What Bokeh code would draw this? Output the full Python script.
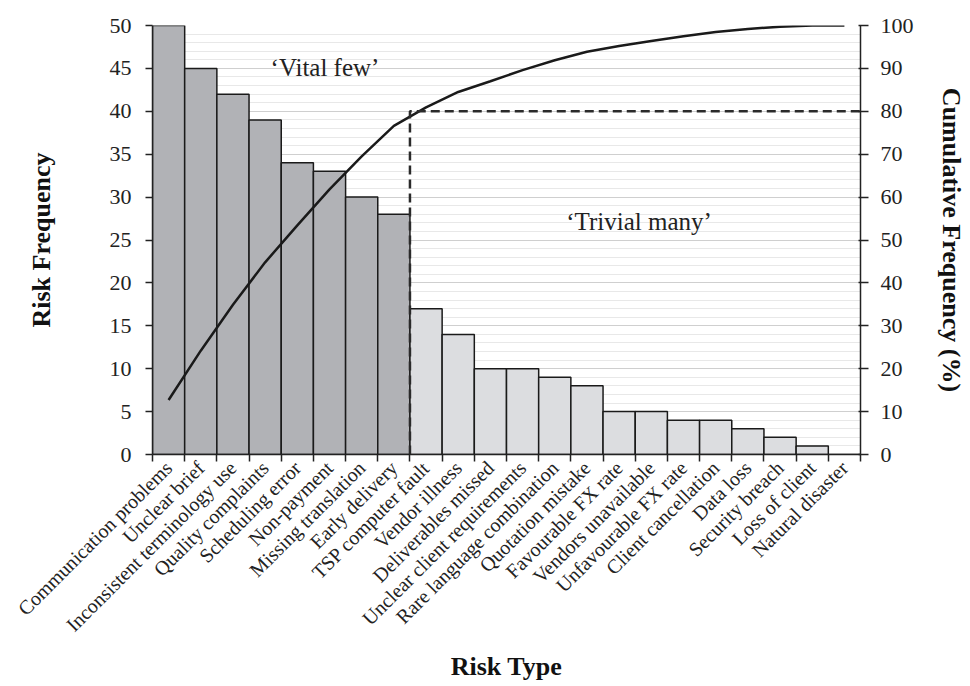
import math
from bokeh.plotting import figure
from bokeh.models import (Range1d, LinearAxis, FixedTicker, SingleIntervalTicker,
                          CustomJSTickFormatter, Label, ColumnDataSource)
from bokeh.transform import factor_cmap
from bokeh.embed import file_html
from bokeh.resources import INLINE

# ---------------- data ----------------
risk_types = ["Communication problems", "Unclear brief", "Inconsistent terminology use",
              "Quality complaints", "Scheduling error", "Non-payment", "Missing translation",
              "Early delivery", "TSP computer fault", "Vendor illness", "Deliverables missed",
              "Unclear client requirements", "Rare language combination", "Quotation mistake",
              "Favourable FX rate", "Vendors unavailable", "Unfavourable FX rate",
              "Client cancellation", "Data loss", "Security breach", "Loss of client",
              "Natural disaster"]
frequency = [50, 45, 42, 39, 34, 33, 30, 28, 17, 14, 10, 10, 9, 8, 5, 5, 4, 4, 3, 2, 1, 0]
cumulative_pct = [12.7, 24.2, 34.9, 44.8, 53.4, 61.8, 69.5, 76.6, 80.9, 84.5, 87.0, 89.6,
                  91.9, 93.9, 95.2, 96.4, 97.5, 98.5, 99.2, 99.7, 100.0, 100.0]
vital_few_count = 8
threshold_pct = 80
groups = ["Vital few", "Trivial many"]
group_colors = ["#b1b2b6", "#dcdde0"]
freq_ticks_interval = 5
pct_ticks_interval = 10

FONT = "Liberation Serif"
n = len(risk_types)
xs = list(range(n))
group = [groups[0] if i < vital_few_count else groups[1] for i in range(n)]

src = ColumnDataSource(dict(x=xs, top=frequency, cum=cumulative_pct, group=group))

p = figure(width=968, height=684, x_range=Range1d(-0.5, n - 0.5), y_range=Range1d(0, 50),
           output_backend="svg", toolbar_location=None,
           min_border_left=152, min_border_top=25, min_border_right=106, min_border_bottom=229)
p.outline_line_color = None
p.background_fill_color = "white"
p.border_fill_color = "white"

# left axis
left_ticker = SingleIntervalTicker(interval=freq_ticks_interval, num_minor_ticks=5)
ly = p.left[0]
ly.ticker = left_ticker
ly.axis_label = "Risk Frequency"
ly.axis_label_text_font = FONT
ly.axis_label_text_font_style = "bold"
ly.axis_label_text_font_size = "26px"
ly.axis_label_text_color = "#111"
ly.axis_label_standoff = 51
ly.major_label_text_font = FONT
ly.major_label_text_font_size = "22px"
ly.major_label_text_color = "#222"
ly.major_label_standoff = 14
ly.major_tick_out = 7
ly.major_tick_in = 0
ly.minor_tick_line_color = None
ly.axis_line_width = 1.5
ly.major_tick_line_width = 1.5
ly.axis_line_color = "#222"
ly.major_tick_line_color = "#222"

# grid
p.ygrid.ticker = left_ticker
p.ygrid.grid_line_color = "#cfcfcf"
p.ygrid.grid_line_width = 1
p.ygrid.minor_grid_line_color = "#e8e8e8"
p.ygrid.minor_grid_line_width = 1
p.xgrid.visible = False

# bottom axis
bx = p.below[0]
bx.ticker = FixedTicker(ticks=xs, minor_ticks=[i - 0.5 for i in range(n + 1)])
bx.formatter = CustomJSTickFormatter(args=dict(names=risk_types),
                                     code="return names[Math.round(tick)] || '';")
bx.major_label_orientation = math.pi / 4
bx.major_tick_line_color = None
bx.minor_tick_out = 7
bx.minor_tick_in = 0
bx.minor_tick_line_width = 1.5
bx.minor_tick_line_color = "#222"
bx.axis_line_width = 1.5
bx.axis_line_color = "#222"
bx.major_label_text_font = FONT
bx.major_label_text_font_size = "20px"
bx.major_label_text_color = "#222"
bx.major_label_standoff = 3
bx.axis_label = "Risk Type"
bx.axis_label_text_font = FONT
bx.axis_label_text_font_style = "bold"
bx.axis_label_text_font_size = "26px"
bx.axis_label_text_color = "#111"
bx.axis_label_standoff = 6

# right axis
p.extra_y_ranges = {"pct": Range1d(0, 100)}
ry = LinearAxis(y_range_name="pct", ticker=SingleIntervalTicker(interval=pct_ticks_interval),
                axis_label="Cumulative Frequency (%)")
ry.axis_label_orientation = "vertical"
ry.axis_label_text_font = FONT
ry.axis_label_text_font_style = "bold"
ry.axis_label_text_font_size = "26px"
ry.axis_label_text_color = "#111"
ry.axis_label_standoff = 20
ry.major_label_text_font = FONT
ry.major_label_text_font_size = "22px"
ry.major_label_text_color = "#222"
ry.major_label_standoff = 12
ry.major_tick_out = 8
ry.major_tick_in = 2
ry.minor_tick_line_color = None
ry.axis_line_width = 1.5
ry.major_tick_line_width = 1.5
ry.axis_line_color = "#222"
ry.major_tick_line_color = "#222"
p.add_layout(ry, "right")

# bars
p.vbar(x="x", top="top", width=1, source=src,
       fill_color=factor_cmap("group", palette=group_colors, factors=groups),
       line_color="#1a1a1a", line_width=1.5)

# cumulative line
p.line(x="x", y="cum", source=src, y_range_name="pct", line_color="#1a1a1a", line_width=2.5)

# 80% cutoff dashed lines
cut_x = vital_few_count - 0.5
p.line(x=[cut_x, cut_x, n - 0.5], y=[0, threshold_pct, threshold_pct], y_range_name="pct",
       line_color="#2a2a2a", line_width=2.5, line_dash="9 5")

# annotations
p.add_layout(Label(x=4.86, y=45.1, text="\u2018Vital few\u2019", text_align="center",
                   text_baseline="middle", text_font=FONT, text_font_size="25px",
                   text_color="#222"))
p.add_layout(Label(x=14.62, y=27.1, text="\u2018Trivial many\u2019", text_align="center",
                   text_baseline="middle", text_font=FONT, text_font_size="25px",
                   text_color="#222"))

open("out.html", "w").write(file_html(p, INLINE))
